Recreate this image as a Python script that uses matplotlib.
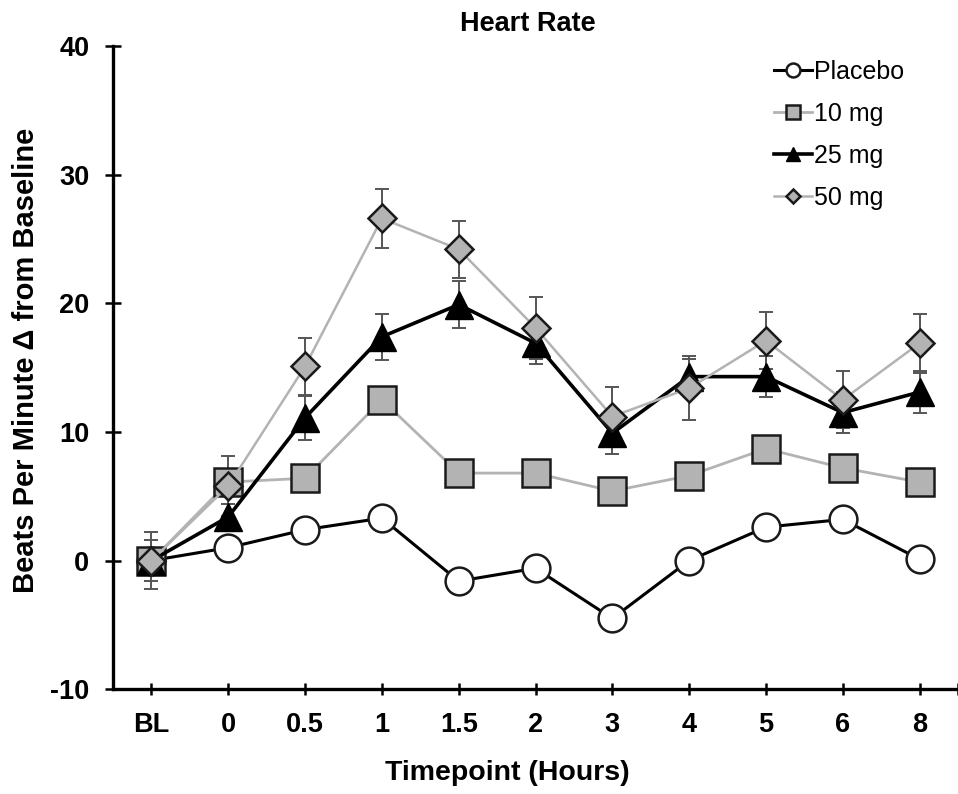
import matplotlib
matplotlib.use("Agg")
import matplotlib.pyplot as plt
import numpy as np

plt.rcParams["font.family"] = ["Liberation Sans", "DejaVu Sans"]
plt.rcParams["axes.unicode_minus"] = False

TIMEPOINTS = ["BL", "0", "0.5", "1", "1.5", "2", "3", "4", "5", "6", "8"]

PLACEBO = [0.0, 1.0, 2.4, 3.3, -1.6, -0.6, -4.5, 0.0, 2.6, 3.2, 0.1]
MG10 = [0.0, 6.1, 6.4, 12.5, 6.8, 6.8, 5.4, 6.6, 8.7, 7.2, 6.1]
MG25 = [0.0, 3.4, 11.1, 17.4, 19.9, 16.9, 9.9, 14.3, 14.3, 11.5, 13.1]
MG50 = [0.0, 5.8, 15.1, 26.6, 24.2, 18.1, 11.2, 13.4, 17.1, 12.5, 16.9]

MG25_ERR = [1.6, 1.0, 1.7, 1.8, 1.8, 1.6, 1.6, 1.4, 1.6, 1.6, 1.6]
MG50_ERR = [2.2, 2.3, 2.2, 2.3, 2.2, 2.4, 2.3, 2.5, 2.2, 2.2, 2.3]

GRAY = "#b3b3b3"
EDGE = "#1a1a1a"
ERRC = "#555555"

fig = plt.figure(figsize=(9.58, 7.94), dpi=100)
ax = fig.add_axes([0.118, 0.132, 0.882, 0.810])
x = np.arange(len(TIMEPOINTS))

# error bars first so markers sit on top
ax.errorbar(x, MG25, yerr=MG25_ERR, fmt="none", ecolor=ERRC, elinewidth=1.4,
            capsize=5, capthick=1.4, zorder=1)
ax.errorbar(x, MG50, yerr=MG50_ERR, fmt="none", ecolor=ERRC, elinewidth=1.4,
            capsize=5, capthick=1.4, zorder=1)

ax.plot(x, PLACEBO, color="black", lw=2.2, marker="o", ms=20,
        mfc="white", mec=EDGE, mew=1.8, label="Placebo", zorder=2)
ax.plot(x, MG10, color=GRAY, lw=2.0, marker="s", ms=20,
        mfc=GRAY, mec=EDGE, mew=1.8, label="10 mg", zorder=3)
ax.plot(x, MG25, color="black", lw=2.6, marker="^", ms=20,
        mfc="black", mec="black", mew=1.0, label="25 mg", zorder=4)
ax.plot(x, MG50, color=GRAY, lw=1.8, marker="D", ms=14,
        mfc=GRAY, mec=EDGE, mew=1.8, label="50 mg", zorder=5)

ax.set_xlim(-0.5, 10.5)
ax.set_ylim(-10, 40)
ax.set_xticks(x)
ax.set_xticks([10.5], minor=True)
ax.set_xticklabels(TIMEPOINTS)
ax.set_yticks([-10, 0, 10, 20, 30, 40])

for side in ("top", "right"):
    ax.spines[side].set_visible(False)
for side in ("left", "bottom"):
    ax.spines[side].set_linewidth(2.4)

ax.tick_params(axis="y", direction="inout", length=12, width=1.8, pad=11,
               labelsize=19.5)
ax.tick_params(axis="x", which="both", direction="inout", length=9, width=1.8,
               pad=12, labelsize=19.5)
for lab in ax.get_xticklabels() + ax.get_yticklabels():
    lab.set_fontweight("bold")

ax.set_title("Heart Rate", fontsize=19.5, fontweight="bold", pad=11, x=0.491)
ax.set_xlabel("Timepoint (Hours)", fontsize=20.5, fontweight="bold", labelpad=16)
ax.set_ylabel("Beats Per Minute \u0394 from Baseline", fontsize=21,
              fontweight="bold", labelpad=7)
ax.xaxis.label.set_x(0.467)
ax.yaxis.label.set_y(0.512)

fig.legend(loc="upper left", bbox_to_anchor=(764 / 958, 1 - 50 / 794),
           frameon=False, fontsize=18, markerscale=0.5, handlelength=1.5,
           handletextpad=0.12, labelspacing=0.72, borderaxespad=0)

fig.savefig("out.png", dpi=100)
